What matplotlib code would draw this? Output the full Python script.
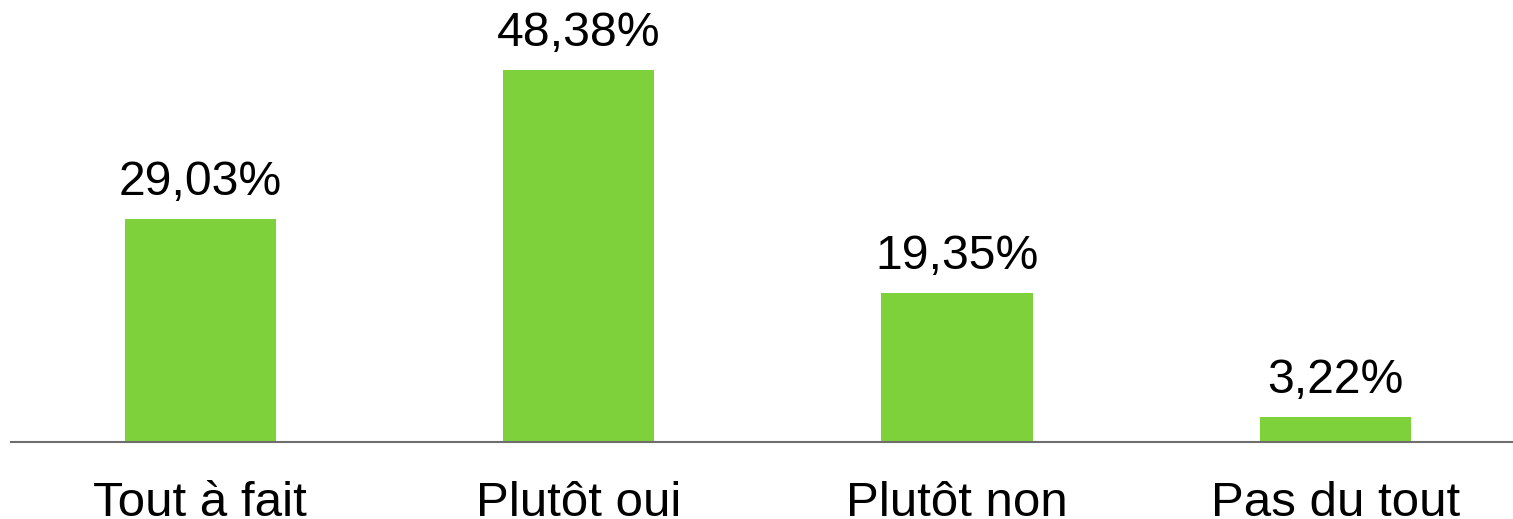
import matplotlib.pyplot as plt

categories = ["Tout à fait", "Plutôt oui", "Plutôt non", "Pas du tout"]
values = [29.03, 48.38, 19.35, 3.22]
labels = ["29,03%", "48,38%", "19,35%", "3,22%"]

plt.rcParams['font.family'] = ['Liberation Sans', 'DejaVu Sans']

fig = plt.figure(figsize=(15.13, 5.19), dpi=100)
ax = fig.add_axes([11 / 1513, 77 / 519, 1502 / 1513, 442 / 519])

x = range(len(categories))
bars = ax.bar(x, values, width=0.4, color="#7fd13b")

for b, lab in zip(bars, labels):
    ax.annotate(lab, (b.get_x() + b.get_width() / 2, b.get_height()),
                xytext=(0, 10), textcoords="offset points",
                ha="center", va="bottom", fontsize=34.7)

ax.set_xlim(-0.5, 3.47)
ax.set_ylim(0, 57.5)
ax.set_xticks(list(x))
ax.set_xticklabels(categories, fontsize=35.5)
ax.tick_params(axis="x", length=0, pad=28)
ax.set_yticks([])
for s in ["top", "right", "left"]:
    ax.spines[s].set_visible(False)
ax.spines["bottom"].set_color("#6e6e6e")
ax.spines["bottom"].set_linewidth(1.5)

fig.savefig("out.png", dpi=100)
